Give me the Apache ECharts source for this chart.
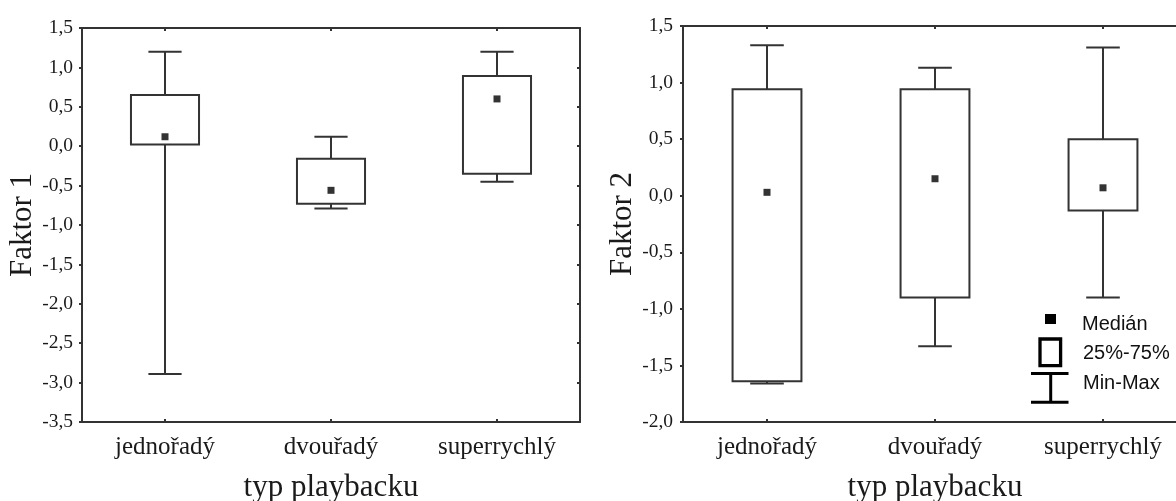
<!DOCTYPE html>
<html>
<head>
<meta charset="utf-8">
<script src="https://cdn.jsdelivr.net/npm/echarts@6/dist/echarts.min.js"></script>
<style>html,body{margin:0;padding:0;background:#fff;}#c{width:1176px;height:501px;}</style>
</head>
<body>
<div id="c"></div>
<script>
// ---- data ----
var categories = ['jednořadý', 'dvouřadý', 'superrychlý'];
var f1Min    = [-2.89, -0.79, -0.45];
var f1Q1     = [0.02, -0.73, -0.35];
var f1Median = [0.12, -0.56, 0.60];
var f1Q3     = [0.65, -0.16, 0.89];
var f1Max    = [1.20, 0.12, 1.20];
var f2Min    = [-1.66, -1.33, -0.90];
var f2Q1     = [-1.64, -0.90, -0.13];
var f2Median = [0.03, 0.15, 0.07];
var f2Q3     = [0.94, 0.94, 0.50];
var f2Max    = [1.33, 1.13, 1.31];
var y1Range = [-3.5, 1.5];
var y2Range = [-2.0, 1.5];
var yStep = 0.5;
var xName = 'typ playbacku';
var y1Name = 'Faktor 1';
var y2Name = 'Faktor 2';
var legendNames = ['Medián', '25%-75%', 'Min-Max'];

// ---- styling ----
var LINE = '#333333';
var TXT = '#1a1a1a';
var SERIF = '"Liberation Serif", "Times New Roman", serif';
var SANS = '"Liberation Sans", Arial, sans-serif';

function fmt(v) { return v.toFixed(1).replace('.', ','); }

function rows(mn, q1, q3, mx) {
  return categories.map(function (c, i) { return [i, mn[i], q1[i], q3[i], mx[i]]; });
}

function whiskerItem(params, api) {
  var i = api.value(0);
  var band = api.size([1, 0])[0];
  var cap = band * 0.2;
  var pMin = api.coord([i, api.value(1)]);
  var pQ1 = api.coord([i, api.value(2)]);
  var pQ3 = api.coord([i, api.value(3)]);
  var pMax = api.coord([i, api.value(4)]);
  var st = { stroke: LINE, lineWidth: 2, fill: null };
  return {
    type: 'group',
    children: [
      { type: 'line', shape: { x1: pMin[0], y1: pMin[1], x2: pQ1[0], y2: pQ1[1] }, style: st },
      { type: 'line', shape: { x1: pQ3[0], y1: pQ3[1], x2: pMax[0], y2: pMax[1] }, style: st },
      { type: 'line', shape: { x1: pMin[0] - cap / 2, y1: pMin[1], x2: pMin[0] + cap / 2, y2: pMin[1] }, style: st },
      { type: 'line', shape: { x1: pMax[0] - cap / 2, y1: pMax[1], x2: pMax[0] + cap / 2, y2: pMax[1] }, style: st }
    ]
  };
}

function boxItem(params, api) {
  var i = api.value(0);
  var band = api.size([1, 0])[0];
  var w = band * 0.41;
  var pQ1 = api.coord([i, api.value(2)]);
  var pQ3 = api.coord([i, api.value(3)]);
  return {
    type: 'rect',
    shape: { x: pQ3[0] - w / 2, y: pQ3[1], width: w, height: pQ1[1] - pQ3[1] },
    style: { stroke: LINE, lineWidth: 2, fill: '#ffffff' }
  };
}

function axesFor(gi, yRange, yName, labelMargin) {
  return {
    x: [
      {
        type: 'category', gridIndex: gi, data: categories, position: 'bottom',
        name: xName, nameLocation: 'middle', nameGap: 50,
        nameTextStyle: { fontFamily: SERIF, fontSize: 31, color: TXT },
        axisLine: { onZero: false, lineStyle: { color: LINE, width: 2 } },
        axisTick: { show: true, inside: true, length: 3, alignWithLabel: true, lineStyle: { color: LINE, width: 2 } },
        axisLabel: { margin: 13, fontFamily: SERIF, fontSize: 25, color: TXT },
        splitLine: { show: false }
      },
      {
        type: 'category', gridIndex: gi, data: categories, position: 'top',
        axisLine: { onZero: false, lineStyle: { color: LINE, width: 2 } },
        axisTick: { show: true, inside: true, length: 3, alignWithLabel: true, lineStyle: { color: LINE, width: 2 } },
        axisLabel: { show: false },
        splitLine: { show: false }
      }
    ],
    y: [
      {
        type: 'value', gridIndex: gi, position: 'left', min: yRange[0], max: yRange[1], interval: yStep,
        name: yName, nameLocation: 'middle', nameGap: 40, nameRotate: 90,
        nameTextStyle: { fontFamily: SERIF, fontSize: 31, color: TXT },
        axisLine: { show: true, onZero: false, lineStyle: { color: LINE, width: 2 } },
        axisTick: { show: true, inside: false, length: 3, lineStyle: { color: LINE, width: 2 } },
        axisLabel: { margin: labelMargin, fontFamily: SERIF, fontSize: 19.5, color: TXT, formatter: fmt },
        splitLine: { show: false }
      },
      {
        type: 'value', gridIndex: gi, position: 'right', min: yRange[0], max: yRange[1], interval: yStep,
        axisLine: { show: true, onZero: false, lineStyle: { color: LINE, width: 2 } },
        axisTick: { show: true, inside: true, length: 3, lineStyle: { color: LINE, width: 2 } },
        axisLabel: { show: false },
        splitLine: { show: false }
      }
    ]
  };
}

var a1 = axesFor(0, y1Range, y1Name, 9);
var a2 = axesFor(1, y2Range, y2Name, 10);

function seriesFor(xi, yi, mn, q1, md, q3, mx) {
  return [
    { type: 'custom', name: legendNames[2], xAxisIndex: xi, yAxisIndex: yi, renderItem: whiskerItem, data: rows(mn, q1, q3, mx), z: 2, silent: true },
    { type: 'custom', name: legendNames[1], xAxisIndex: xi, yAxisIndex: yi, renderItem: boxItem, data: rows(mn, q1, q3, mx), z: 3, silent: true },
    { type: 'scatter', name: legendNames[0], xAxisIndex: xi, yAxisIndex: yi, symbol: 'rect', symbolSize: 7,
      itemStyle: { color: '#000000' }, data: categories.map(function (c, i) { return [i, md[i]]; }), z: 4, silent: true }
  ];
}

var chart = echarts.init(document.getElementById('c'), null, { renderer: 'canvas' });
chart.setOption({
  animation: false,
  backgroundColor: '#ffffff',
  grid: [
    { left: 82, top: 28, right: 596, bottom: 79, outerBoundsMode: 'none' },
    { left: 683, top: 26, right: -11, bottom: 79, outerBoundsMode: 'none' }
  ],
  xAxis: a1.x.concat(a2.x),
  yAxis: a1.y.concat(a2.y),
  series: seriesFor(0, 0, f1Min, f1Q1, f1Median, f1Q3, f1Max)
    .concat(seriesFor(2, 2, f2Min, f2Q1, f2Median, f2Q3, f2Max)),
  graphic: [
    { type: 'rect', shape: { x: 1045, y: 314, width: 11, height: 10 }, style: { fill: '#000' } },
    { type: 'text', style: { x: 1082, y: 324, text: legendNames[0], font: '20px ' + SANS, fill: '#111', verticalAlign: 'middle' } },
    { type: 'rect', shape: { x: 1040, y: 339, width: 20.6, height: 26.7 }, style: { fill: null, stroke: '#000', lineWidth: 3.3 } },
    { type: 'text', style: { x: 1083, y: 353.5, text: legendNames[1], font: '20px ' + SANS, fill: '#111', verticalAlign: 'middle' } },
    { type: 'line', shape: { x1: 1031, y1: 373.5, x2: 1068.5, y2: 373.5 }, style: { stroke: '#000', lineWidth: 3 } },
    { type: 'line', shape: { x1: 1031, y1: 402.3, x2: 1068.5, y2: 402.3 }, style: { stroke: '#000', lineWidth: 3 } },
    { type: 'line', shape: { x1: 1050.7, y1: 373.5, x2: 1050.7, y2: 402.3 }, style: { stroke: '#000', lineWidth: 3 } },
    { type: 'text', style: { x: 1083, y: 383.5, text: legendNames[2], font: '20px ' + SANS, fill: '#111', verticalAlign: 'middle' } }
  ]
});
</script>
</body>
</html>
